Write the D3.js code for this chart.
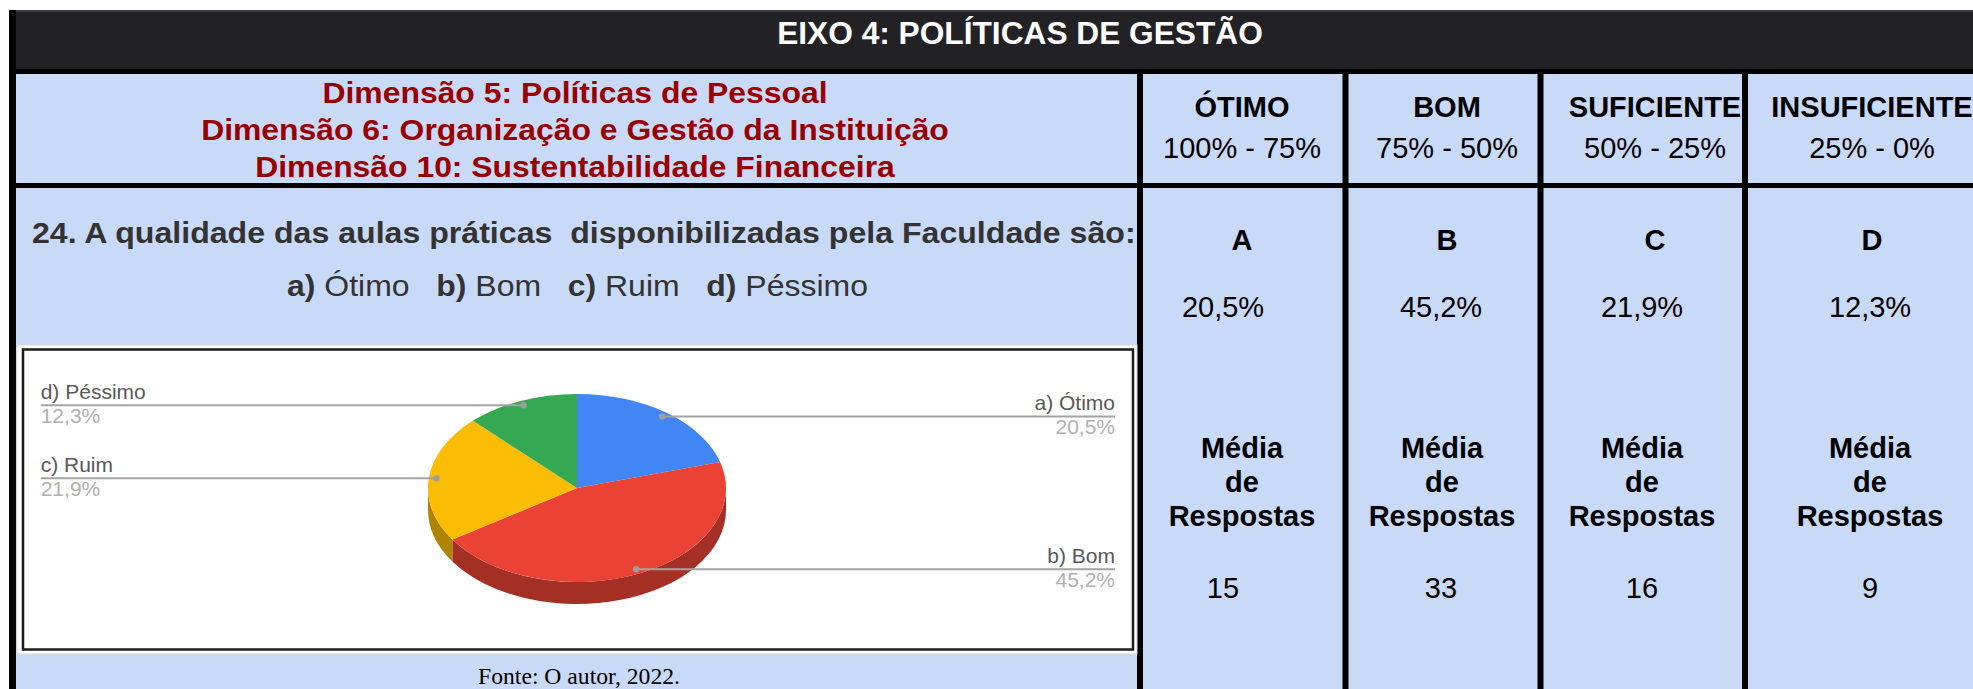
<!DOCTYPE html>
<html>
<head>
<meta charset="utf-8">
<script src="https://cdn.jsdelivr.net/npm/d3@7"></script>
<style>
  body { margin: 0; background: #fff; overflow: hidden; }
  svg { display: block; }
  text { font-family: "Liberation Sans", Arial, sans-serif; }
</style>
</head>
<body>
<div id="chart"></div>
<script>
// ---- data ----
const title = "EIXO 4: POLÍTICAS DE GESTÃO";
const dimensions = [
    "Dimensão 5: Políticas de Pessoal",
    "Dimensão 6: Organização e Gestão da Instituição",
    "Dimensão 10: Sustentabilidade Financeira"
];
const question = "24. A qualidade das aulas práticas  disponibilizadas pela Faculdade são:";
const categories = ["a) Ótimo", "b) Bom", "c) Ruim", "d) Péssimo"];
const shares = [20.5, 45.2, 21.9, 12.3];
const counts = [15, 33, 16, 9];
const letters = ["A", "B", "C", "D"];
const levels = ["ÓTIMO", "BOM", "SUFICIENTE", "INSUFICIENTE"];
const ranges = ["100% - 75%", "75% - 50%", "50% - 25%", "25% - 0%"];
const countLabel = ["Média", "de", "Respostas"];
const source = "Fonte: O autor, 2022.";
const colors = ["#4285f4", "#ea4335", "#fbbc04", "#34a853"];

const W = 1973, H = 689;
const blue = "#c9daf8";

const fmt = d3.formatLocale({decimal: ",", thousands: ".", grouping: [3], currency: ["", ""]}).format(".1f");
const pct = v => fmt(v) + "%";

const svg = d3.select("#chart").append("svg")
    .attr("width", W)
    .attr("height", H);

// draws a text, optionally stretched horizontally to a width (the source is a stretched screenshot)
function label(parent, str, x, y, o) {
    const t = parent.append("text")
        .attr("x", x)
        .attr("y", y)
        .attr("text-anchor", o.anchor || "middle")
        .style("font-size", o.size + "px")
        .style("font-weight", o.weight || "normal")
        .style("fill", o.color || "#000")
        .style("white-space", "pre")
        .text(str);
    if (o.family) t.style("font-family", o.family);
    if (o.width || o.k) stretch(t, x, o.width, o.k);
    return t;
}
function stretch(t, x, width, k) {
    const f = k || width / t.node().getComputedTextLength();
    t.attr("transform", `translate(${x},0) scale(${f},1) translate(${-x},0)`);
}

// ---- table background and borders ----
svg.append("rect").attr("x", 16).attr("y", 74).attr("width", W - 16).attr("height", H - 74).attr("fill", blue);
svg.append("rect").attr("x", 9).attr("y", 10).attr("width", W - 9).attr("height", 60).attr("fill", "#222125");
svg.append("rect").attr("x", 9).attr("y", 10).attr("width", W - 9).attr("height", 2).attr("fill", "#3a3a3e");
svg.append("rect").attr("x", 9).attr("y", 10).attr("width", 7).attr("height", H - 10).attr("fill", "#000");
[69, 183].forEach(y => {
    svg.append("rect").attr("x", 9).attr("y", y).attr("width", W - 9).attr("height", 5).attr("fill", "#000");
});

const colBorders = [1140, 1345.5, 1540.5, 1745];
colBorders.forEach(x => {
    svg.append("rect").attr("x", x - 3).attr("y", 69).attr("width", 6).attr("height", H - 69).attr("fill", "#000");
});

// ---- header ----
label(svg, title, 1020, 44, {size: 31, weight: "bold", color: "#fff", width: 486});

const dimY = [103, 140, 177];
dimensions.forEach((d, i) => {
    label(svg, d, 575, dimY[i], {size: 29, weight: "bold", color: "#990000", k: 1.1});
});

// ---- right columns ----
const headX = [1242, 1447, 1655, 1872];
const bodyX = [1242, 1442, 1642, 1870];
const valX = [1223, 1441, 1642, 1870];

levels.forEach((d, i) => {
    label(svg, d, headX[i], 117, {size: 29, weight: "bold"});
    label(svg, ranges[i], headX[i], 158, {size: 29});
    label(svg, letters[i], headX[i], 250, {size: 29, weight: "bold"});
    label(svg, pct(shares[i]), valX[i], 317, {size: 29});
    countLabel.forEach((c, j) => {
        label(svg, c, bodyX[i], 458 + j * 34, {size: 29, weight: "bold"});
    });
    label(svg, String(counts[i]), valX[i], 598, {size: 29});
});

// ---- question ----
label(svg, question, 32, 243, {size: 30, weight: "bold", color: "#333", anchor: "start", width: 1104});

const opts = svg.append("text")
    .attr("x", 287)
    .attr("y", 296)
    .style("font-size", "30px")
    .style("fill", "#333")
    .style("white-space", "pre");
categories.forEach((c, i) => {
    const cut = c.indexOf(")") + 1;
    opts.append("tspan").style("font-weight", "bold").text(c.slice(0, cut));
    opts.append("tspan").text(c.slice(cut) + (i < categories.length - 1 ? "   " : ""));
});
stretch(opts, 287, 581);

// ---- chart box ----
svg.append("rect").attr("x", 17).attr("y", 345).attr("width", 1120).attr("height", 309)
    .attr("fill", "#fff").attr("stroke", "#d9d9d9").attr("stroke-width", 1);
svg.append("rect").attr("x", 23).attr("y", 349.5).attr("width", 1110).attr("height", 300)
    .attr("fill", "#fff").attr("stroke", "#1c1c1c").attr("stroke-width", 2.5);

// ---- 3D pie ----
const cx = 577, cy = 488, rx = 149, ry = 94, depth = 22;
const arcs = d3.pie().sort(null).value(d => d)(shares);
const pt = (a, r = 1) => [cx + rx * r * Math.sin(a), cy - ry * r * Math.cos(a)];

const pieG = svg.append("g");

// visible front walls
pieG.selectAll("path.side")
    .data(arcs.filter(d => d.endAngle > Math.PI / 2 && d.startAngle < 3 * Math.PI / 2))
    .join("path")
    .attr("class", "side")
    .attr("d", d => {
        const s = Math.max(d.startAngle, Math.PI / 2);
        const e = Math.min(d.endAngle, 3 * Math.PI / 2);
        const [x0, y0] = pt(s), [x1, y1] = pt(e);
        return `M${x0},${y0}A${rx},${ry} 0 0 1 ${x1},${y1}` +
            `L${x1},${y1 + depth}A${rx},${ry} 0 0 0 ${x0},${y0 + depth}Z`;
    })
    .attr("fill", d => d3.color(colors[d.index]).darker(1));

// top faces
const arc = d3.arc().innerRadius(0).outerRadius(rx);
pieG.append("g")
    .attr("transform", `translate(${cx},${cy}) scale(1,${ry / rx})`)
    .selectAll("path")
    .data(arcs)
    .join("path")
    .attr("d", arc)
    .attr("fill", (d, i) => colors[i]);

// leader lines and labels
const leftX = 40.7, rightX = 1115;
arcs.forEach((d, i) => {
    const m = (d.startAngle + d.endAngle) / 2;
    const [ax, ay] = pt(m, 0.95);
    const left = m > Math.PI;
    svg.append("line")
        .attr("x1", left ? leftX : ax)
        .attr("x2", left ? ax : rightX)
        .attr("y1", ay).attr("y2", ay)
        .attr("stroke", "#a3a3a3")
        .attr("stroke-width", 2);
    svg.append("circle").attr("cx", ax).attr("cy", ay).attr("r", 3.2).attr("fill", "#9e9e9e");
    const anchor = left ? "start" : "end";
    const tx = left ? leftX : rightX;
    label(svg, categories[i], tx, ay - 6.5, {size: 21, color: "#595959", anchor: anchor});
    label(svg, pct(shares[i]), tx, ay + 17.5, {size: 21, color: "#b0b0b0", anchor: anchor});
});

// ---- source ----
label(svg, source, 579, 684, {size: 24, family: "'Liberation Serif', 'Times New Roman', serif", width: 202});
</script>
</body>
</html>
